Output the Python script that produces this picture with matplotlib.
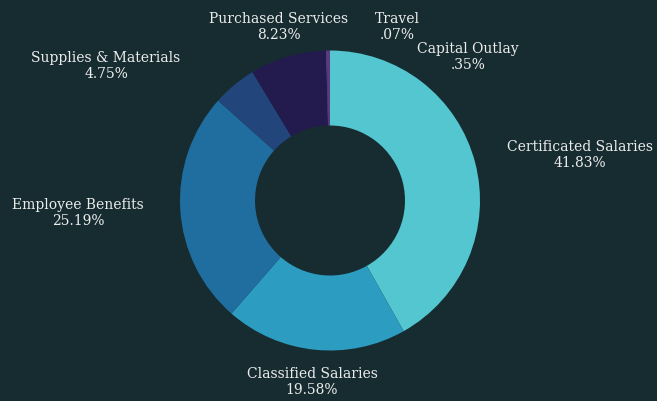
import matplotlib
matplotlib.use("Agg")
import matplotlib.pyplot as plt

categories = ["Certificated Salaries", "Classified Salaries", "Employee Benefits",
              "Supplies & Materials", "Purchased Services", "Travel", "Capital Outlay"]
values = [41.83, 19.58, 25.19, 4.75, 8.23, 0.07, 0.35]
pct_labels = ["41.83%", "19.58%", "25.19%", "4.75%", "8.23%", ".07%", ".35%"]

colors = ["#53c6d0", "#2c9cc0", "#1f6e9f", "#22467b", "#231b4e", "#7a4a9a", "#5b3a84"]
# label block centres in pixel coordinates (from top-left)
label_px = [(580, 155), (312, 382), (78, 213), (106, 66), (279, 27), (397, 27), (468, 57)]

BG = "#172c31"
W, H = 657, 402
cx, cy, R = 330, 201.5, 150

fig = plt.figure(figsize=(W / 100, H / 100), dpi=100, facecolor=BG)
ax = fig.add_axes([0, 0, 1, 1])
ax.set_facecolor(BG)
ax.pie(values, colors=colors, startangle=90, counterclock=False,
       radius=1.0, wedgeprops=dict(width=0.5, edgecolor="none", linewidth=0))
ax.set_aspect("auto")
ax.set_xlim(-cx / R, (W - cx) / R)
ax.set_ylim(-(H - cy) / R, cy / R)
ax.axis("off")

for name, pct, (px, py) in zip(categories, pct_labels, label_px):
    ax.text((px - cx) / R, (cy - py) / R, f"{name}\n{pct}", ha="center", va="center",
            color="#ececec", fontsize=10, family=["DejaVu Serif"],
            linespacing=1.15)

fig.savefig("out.png", dpi=100, facecolor=BG)
